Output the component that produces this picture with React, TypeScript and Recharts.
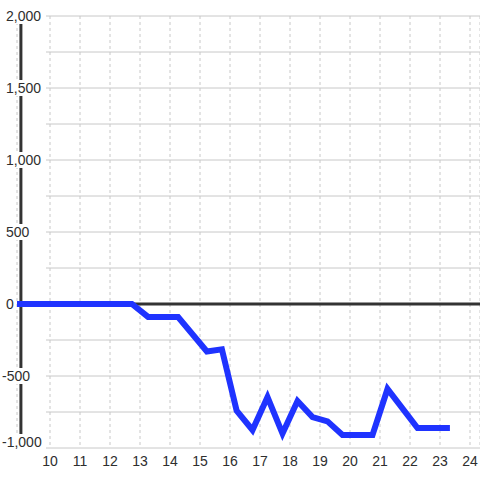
import React from "react";
import {
  LineChart,
  Line,
  XAxis,
  YAxis,
  CartesianGrid,
  ReferenceLine,
} from "recharts";

const hours = [
  8.9, 12.73, 13.27, 14.27, 15.23, 15.73, 16.22, 16.75, 17.25, 17.75, 18.25,
  18.75, 19.25, 19.75, 20.75, 21.25, 22.25, 23.33,
];
const values = [
  0, 0, -90, -90, -330, -315, -740, -875, -646, -900, -674, -785, -815, -910,
  -910, -590, -861, -861,
];
const xTicks = [10, 11, 12, 13, 14, 15, 16, 17, 18, 19, 20, 21, 22, 23, 24];
const yTicks = [-1000, -500, 0, 500, 1000, 1500, 2000];
const yGrid = [-1000, -750, -500, -250, 250, 500, 750, 1000, 1250, 1500, 1750, 2000];

const X_MIN = 8.9;
const X_MAX = 24.333;
const Y_MIN = -1000;
const Y_MAX = 2000;
const GRID_START = 9.867; // horizontal grid starts right of the tick labels

const data = hours.map((h, i) => ({ h, v: values[i] }));

const FONT = "'Liberation Sans', Arial, sans-serif";

function labelWidth(s: string) {
  let w = 0;
  for (const c of s) w += c === "," ? 3.9 : c === "-" ? 4.7 : 7.8;
  return w;
}

function YTick(props: any) {
  const { payload } = props;
  // bottom label is nudged up so it stays clear of the x labels
  const y = payload.value === Y_MIN ? props.y - 6 : props.y;
  const text = payload.value.toLocaleString("en-US");
  const x0 = payload.value < 0 ? 2 : 6;
  const w = labelWidth(text);
  return (
    <g>
      <rect x={x0 - 1} y={y - 8} width={w + 3} height={16} fill="#ffffff" />
      <text x={x0} y={y + 5} fontSize={14} fontFamily={FONT} fill="#2e2e2e" textAnchor="start">
        {text}
      </text>
    </g>
  );
}

function XTick(props: any) {
  const { x, payload } = props;
  return (
    <text x={x} y={466} fontSize={14} fontFamily={FONT} fill="#2e2e2e" textAnchor="middle">
      {payload.value}
    </text>
  );
}

export default function App() {
  return (
    <div style={{ position: "absolute", left: 0, top: 0, background: "#fff" }}>
      <LineChart
        width={480}
        height={480}
        data={data}
        margin={{ top: 16, right: 0, bottom: 0, left: 0 }}
      >
        <CartesianGrid
          horizontal={false}
          stroke="#c8c8c8"
          strokeDasharray="3 3"
        />
        <XAxis
          dataKey="h"
          type="number"
          domain={[X_MIN, X_MAX]}
          allowDataOverflow
          ticks={xTicks}
          axisLine={false}
          tickLine={false}
          height={32}
          tick={<XTick />}
        />
        <YAxis
          type="number"
          domain={[Y_MIN, Y_MAX]}
          allowDataOverflow
          ticks={yTicks}
          width={17}
          axisLine={false}
          tickLine={false}
          tick={<YTick />}
        />
        {yGrid.map((v) => (
          <ReferenceLine
            key={v}
            segment={[
              { x: GRID_START, y: v },
              { x: X_MAX, y: v },
            ]}
            stroke="#c8c8c8"
            strokeWidth={1}
          />
        ))}
        <ReferenceLine x={9.03} stroke="#333" strokeWidth={3} />
        <ReferenceLine y={0} stroke="#333" strokeWidth={3} />
        <Line
          dataKey="v"
          stroke="#1f33ff"
          strokeWidth={6}
          dot={false}
          activeDot={false}
          isAnimationActive={false}
        />
      </LineChart>
    </div>
  );
}
